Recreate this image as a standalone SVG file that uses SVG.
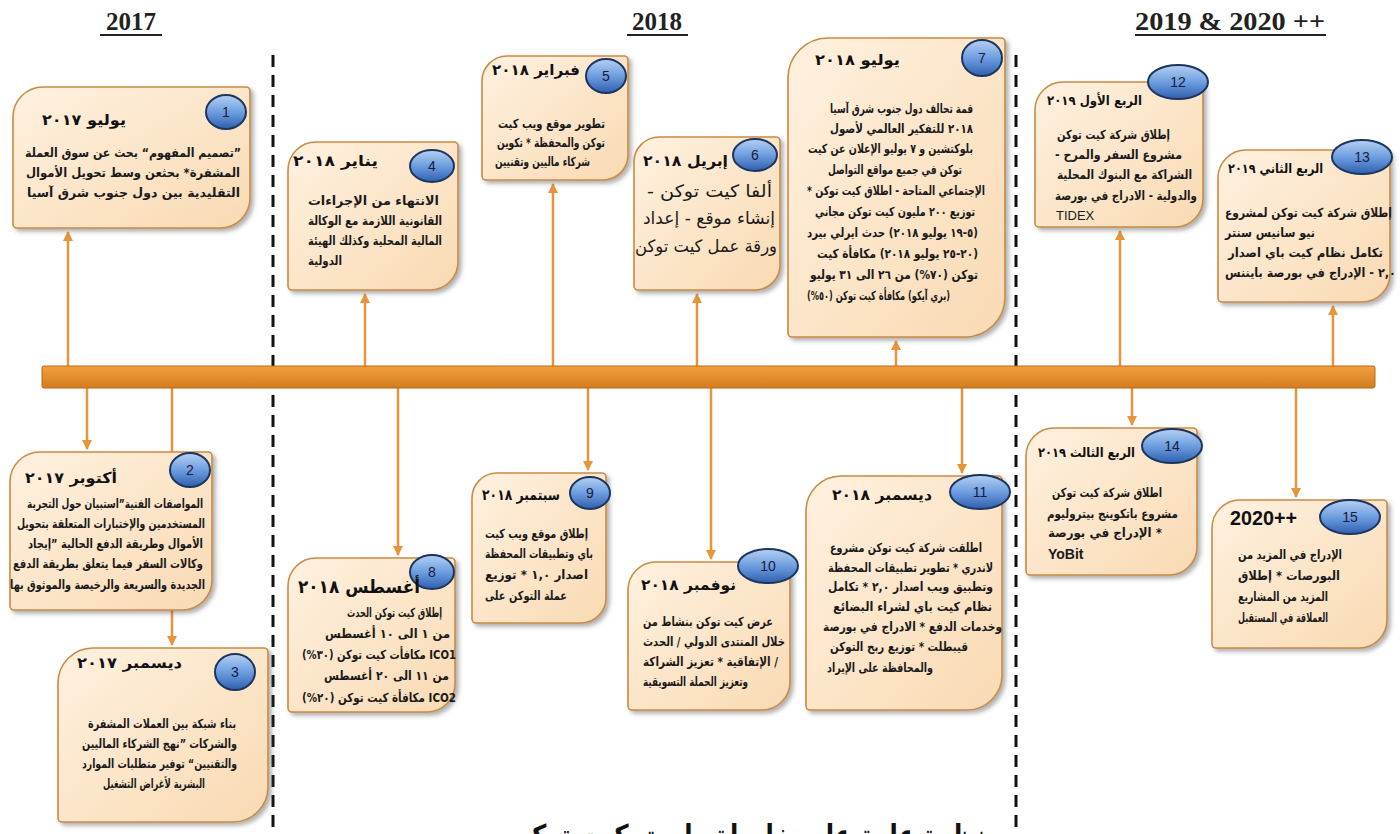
<svg xmlns="http://www.w3.org/2000/svg" width="1400" height="834" viewBox="0 0 1400 834">
<style>
.card{fill:url(#cg);stroke:#c98b45;stroke-width:1.6;filter:url(#sh)}
.bdg{fill:url(#bg);stroke:#1c355e;stroke-width:2}
.num{font-family:"Liberation Sans",sans-serif;font-size:14px;fill:#1a1a3a;text-anchor:middle}
.ttl{font-family:"DejaVu Sans",sans-serif;font-weight:bold;font-size:15px;fill:#111;direction:rtl}
.bd{font-family:"DejaVu Sans",sans-serif;font-weight:bold;font-size:12.5px;fill:#1a1a1a;direction:rtl}
.lat{font-family:"Liberation Sans",sans-serif;font-size:13px;fill:#1a1a1a}
.yr{font-family:"Liberation Serif",serif;font-weight:bold;font-size:25px;fill:#222;text-anchor:middle}
.ul{stroke:#222;stroke-width:2}
.dash{stroke:#111;stroke-width:3;stroke-dasharray:12 8;fill:none}
.arr{stroke:#e8953a;stroke-width:2.5;fill:none}
</style>
<defs>
<linearGradient id="cg" x1="0" y1="0" x2="1" y2="1">
<stop offset="0" stop-color="#fff1e0"/><stop offset="1" stop-color="#f9dab3"/>
</linearGradient>
<linearGradient id="bg" x1="0" y1="0" x2="0" y2="1">
<stop offset="0" stop-color="#b5d0f2"/><stop offset="0.5" stop-color="#6e9ee0"/><stop offset="1" stop-color="#2f5fae"/>
</linearGradient>
<linearGradient id="barg" x1="0" y1="0" x2="0" y2="1">
<stop offset="0" stop-color="#f0a040"/><stop offset="1" stop-color="#d47c1e"/>
</linearGradient>
<filter id="sh" x="-10%" y="-10%" width="130%" height="130%">
<feDropShadow dx="3" dy="3" stdDeviation="2" flood-color="#555" flood-opacity="0.45"/>
</filter>
<marker id="ah" viewBox="0 0 10 10" refX="9" refY="5" markerWidth="4" markerHeight="4" orient="auto">
<path d="M0,0 L10,5 L0,10 Z" fill="#e8953a"/>
</marker>
</defs>
<rect width="1400" height="834" fill="#fff"/>

<g id="headers">
<text class="yr" x="131" y="30">2017</text><line class="ul" x1="100" y1="35" x2="162" y2="35"/>
<text class="yr" x="657" y="30">2018</text><line class="ul" x1="627" y1="35" x2="688" y2="35"/>
<text class="yr" x="1230" y="30" textLength="190" lengthAdjust="spacingAndGlyphs">2019 &amp; 2020 ++</text><line class="ul" x1="1135" y1="35" x2="1326" y2="35"/>
</g>

<g id="dividers">
<line class="dash" x1="273" y1="55" x2="273" y2="834"/>
<line class="dash" x1="1016" y1="55" x2="1016" y2="834"/>
</g>

<g id="connectors">
<line class="arr" x1="68" y1="366" x2="68" y2="232" marker-end="url(#ah)"/>
<line class="arr" x1="365" y1="366" x2="365" y2="294" marker-end="url(#ah)"/>
<line class="arr" x1="553" y1="366" x2="553" y2="184" marker-end="url(#ah)"/>
<line class="arr" x1="697" y1="366" x2="697" y2="294" marker-end="url(#ah)"/>
<line class="arr" x1="896" y1="366" x2="896" y2="341" marker-end="url(#ah)"/>
<line class="arr" x1="1120" y1="366" x2="1120" y2="231" marker-end="url(#ah)"/>
<line class="arr" x1="1333" y1="366" x2="1333" y2="306" marker-end="url(#ah)"/>
<line class="arr" x1="87" y1="388" x2="87" y2="449" marker-end="url(#ah)"/>
<line class="arr" x1="172" y1="388" x2="172" y2="645" marker-end="url(#ah)"/>
<line class="arr" x1="398" y1="388" x2="398" y2="555" marker-end="url(#ah)"/>
<line class="arr" x1="588" y1="388" x2="588" y2="470" marker-end="url(#ah)"/>
<line class="arr" x1="711" y1="388" x2="711" y2="559" marker-end="url(#ah)"/>
<line class="arr" x1="962" y1="388" x2="962" y2="473" marker-end="url(#ah)"/>
<line class="arr" x1="1132" y1="388" x2="1132" y2="425" marker-end="url(#ah)"/>
<line class="arr" x1="1296" y1="388" x2="1296" y2="497" marker-end="url(#ah)"/>
</g>

<g id="timeline">
<rect x="42" y="366" width="1333" height="22" rx="2" fill="url(#barg)" stroke="#b86a1a" stroke-width="1"/>
</g>

<g id="n1">
<path class="card" d="M43,87 H246 A4,4 0 0 1 250,91 V198 A30,30 0 0 1 220,228 H17 A4,4 0 0 1 13,224 V117 A30,30 0 0 1 43,87 Z"/>
<ellipse class="bdg" cx="226" cy="112" rx="20" ry="17"/><text class="num" x="226" y="117">1</text>
<text class="ttl" x="126" y="125" textLength="84" lengthAdjust="spacingAndGlyphs">يوليو ٢٠١٧</text>
<text class="bd" x="241" y="157" textLength="216" lengthAdjust="spacingAndGlyphs">”تصميم المفهوم“ بحث عن سوق العملة</text>
<text class="bd" x="240" y="177" textLength="214" lengthAdjust="spacingAndGlyphs">المشفرة* بحثعن وسط تحويل الأموال</text>
<text class="bd" x="240" y="197" textLength="213" lengthAdjust="spacingAndGlyphs">التقليدية بين دول جنوب شرق آسيا</text>
</g>

<g id="n2">
<path class="card" d="M40,452 H208 A4,4 0 0 1 212,456 V580 A30,30 0 0 1 182,610 H14 A4,4 0 0 1 10,606 V482 A30,30 0 0 1 40,452 Z"/>
<ellipse class="bdg" cx="190" cy="470" rx="20" ry="17"/><text class="num" x="190" y="475">2</text>
<text class="ttl" x="117" y="483" textLength="92" lengthAdjust="spacingAndGlyphs">أكتوبر ٢٠١٧</text>
<text class="bd" x="203" y="508" textLength="176" lengthAdjust="spacingAndGlyphs">المواصفات الفنية”استبيان حول التجربة</text>
<text class="bd" x="205" y="528" textLength="188" lengthAdjust="spacingAndGlyphs">المستخدمين والإختبارات المتعلقة بتحويل</text>
<text class="bd" x="203" y="548" textLength="175" lengthAdjust="spacingAndGlyphs">الأموال وطريقة الدفع الحالية ”إيجاد</text>
<text class="bd" x="203" y="568" textLength="190" lengthAdjust="spacingAndGlyphs">وكالات السفر فيما يتعلق بطريقة الدفع</text>
<text class="bd" x="205" y="589" textLength="195" lengthAdjust="spacingAndGlyphs">الجديدة والسريعة والرخيصة والموثوق بها</text>
</g>

<g id="n3">
<path class="card" d="M93,648 H264 A4,4 0 0 1 268,652 V787 A35,35 0 0 1 233,822 H62 A4,4 0 0 1 58,818 V683 A35,35 0 0 1 93,648 Z"/>
<ellipse class="bdg" cx="235" cy="672" rx="20" ry="18"/><text class="num" x="235" y="677">3</text>
<text class="ttl" x="182" y="668" textLength="105" lengthAdjust="spacingAndGlyphs">ديسمبر ٢٠١٧</text>
<text class="bd" x="236" y="728" textLength="148" lengthAdjust="spacingAndGlyphs">بناء شبكة بين العملات المشفرة</text>
<text class="bd" x="237" y="748" textLength="155" lengthAdjust="spacingAndGlyphs">والشركات ”نهج الشركاء الماليين</text>
<text class="bd" x="237" y="768" textLength="155" lengthAdjust="spacingAndGlyphs">والتقنيين“ توفير متطلبات الموارد</text>
<text class="bd" x="205" y="788" textLength="102" lengthAdjust="spacingAndGlyphs">البشرية لأغراض التشغيل</text>
</g>

<g id="n4">
<path class="card" d="M316,142 H454 A4,4 0 0 1 458,146 V262 A28,28 0 0 1 430,290 H292 A4,4 0 0 1 288,286 V170 A28,28 0 0 1 316,142 Z"/>
<ellipse class="bdg" cx="432" cy="166" rx="22" ry="16"/><text class="num" x="432" y="171">4</text>
<text class="ttl" x="378" y="166" textLength="85" lengthAdjust="spacingAndGlyphs">يناير ٢٠١٨</text>
<text class="bd" x="439" y="205" textLength="131" lengthAdjust="spacingAndGlyphs">الانتهاء من الإجراءات</text>
<text class="bd" x="442" y="225" textLength="134" lengthAdjust="spacingAndGlyphs">القانونية اللازمة مع الوكالة</text>
<text class="bd" x="442" y="245" textLength="134" lengthAdjust="spacingAndGlyphs">المالية المحلية وكذلك الهيئة</text>
<text class="bd" x="342" y="265" textLength="34" lengthAdjust="spacingAndGlyphs">الدولية</text>
</g>

<g id="n5">
<path class="card" d="M507,56 H624 A4,4 0 0 1 628,60 V155 A25,25 0 0 1 603,180 H486 A4,4 0 0 1 482,176 V81 A25,25 0 0 1 507,56 Z"/>
<ellipse class="bdg" cx="606" cy="76" rx="20" ry="17"/><text class="num" x="606" y="81">5</text>
<text class="ttl" x="580" y="75" textLength="88" lengthAdjust="spacingAndGlyphs">فبراير ٢٠١٨</text>
<text class="bd" x="605" y="128" textLength="107" lengthAdjust="spacingAndGlyphs">تطوير موقع ويب كيت</text>
<text class="bd" x="605" y="147" textLength="108" lengthAdjust="spacingAndGlyphs">توكن والمحفظة * تكوين</text>
<text class="bd" x="590" y="166" textLength="95" lengthAdjust="spacingAndGlyphs">شركاء ماليين وتقنيين</text>
</g>

<g id="n6">
<path class="card" d="M659,137 H776 A4,4 0 0 1 780,141 V265 A25,25 0 0 1 755,290 H638 A4,4 0 0 1 634,286 V162 A25,25 0 0 1 659,137 Z"/>
<ellipse class="bdg" cx="755" cy="155" rx="22" ry="16"/><text class="num" x="755" y="160">6</text>
<text class="ttl" x="728" y="166" textLength="85" lengthAdjust="spacingAndGlyphs">إبريل ٢٠١٨</text>
<text class="bd" x="772" y="197" style="font-size:17px;font-weight:normal" textLength="125" lengthAdjust="spacingAndGlyphs">ألفا كيت توكن -</text>
<text class="bd" x="775" y="224" style="font-size:17px;font-weight:normal" textLength="132" lengthAdjust="spacingAndGlyphs">إنشاء موقع - إعداد</text>
<text class="bd" x="777" y="252" style="font-size:17px;font-weight:normal" textLength="142" lengthAdjust="spacingAndGlyphs">ورقة عمل كيت توكن</text>
</g>

<g id="n7">
<path class="card" d="M828,38 H1001 A4,4 0 0 1 1005,42 V297 A40,40 0 0 1 965,337 H792 A4,4 0 0 1 788,333 V78 A40,40 0 0 1 828,38 Z"/>
<ellipse class="bdg" cx="982" cy="58" rx="20" ry="18"/><text class="num" x="982" y="63">7</text>
<text class="ttl" x="900" y="65" textLength="85" lengthAdjust="spacingAndGlyphs">يوليو ٢٠١٨</text>
<text class="bd" x="973" y="113" textLength="143" lengthAdjust="spacingAndGlyphs">قمة تحالف دول جنوب شرق آسيا</text>
<text class="bd" x="973" y="133" textLength="143" lengthAdjust="spacingAndGlyphs">٢٠١٨ للتفكير العالمي لأصول</text>
<text class="bd" x="973" y="153" textLength="165" lengthAdjust="spacingAndGlyphs">بلوكتشين و ٧ يوليو الإعلان عن كيت</text>
<text class="bd" x="962" y="174" textLength="134" lengthAdjust="spacingAndGlyphs">توكن في جميع مواقع التواصل</text>
<text class="bd" x="985" y="195" textLength="178" lengthAdjust="spacingAndGlyphs">الإجتماعي المتاحة - اطلاق كيت توكن *</text>
<text class="bd" x="975" y="216" textLength="160" lengthAdjust="spacingAndGlyphs">توزيع ٢٠٠ مليون كيت توكن مجاني</text>
<text class="bd" x="978" y="237" textLength="171" lengthAdjust="spacingAndGlyphs">(٥-١٩ يوليو ٢٠١٨) حدث ايرلي بيرد</text>
<text class="bd" x="978" y="258" textLength="161" lengthAdjust="spacingAndGlyphs">(٢٠-٢٥ يوليو ٢٠١٨) مكافأة كيت</text>
<text class="bd" x="978" y="279" textLength="168" lengthAdjust="spacingAndGlyphs">توكن (٧٠%) من ٢٦ الى ٣١ يوليو</text>
<text class="bd" x="950" y="300" textLength="143" lengthAdjust="spacingAndGlyphs">(بري آيكو) مكافأة كيت توكن (٥٠%)</text>
</g>

<g id="n8">
<path class="card" d="M316,558 H451 A4,4 0 0 1 455,562 V684 A28,28 0 0 1 427,712 H292 A4,4 0 0 1 288,708 V586 A28,28 0 0 1 316,558 Z"/>
<ellipse class="bdg" cx="432" cy="572" rx="22" ry="17"/><text class="num" x="432" y="577">8</text>
<text class="ttl" x="420" y="593" style="font-size:18px" textLength="122" lengthAdjust="spacingAndGlyphs">أغسطس ٢٠١٨</text>
<text class="bd" x="442" y="617" textLength="95" lengthAdjust="spacingAndGlyphs">إطلاق كيت توكن الحدث</text>
<text class="bd" x="450" y="638" textLength="125" lengthAdjust="spacingAndGlyphs">من ١ الى ١٠ أغسطس</text>
<text class="bd" x="456" y="659" textLength="154" lengthAdjust="spacingAndGlyphs">ICO1 مكافأت كيت توكن (٣٠%)</text>
<text class="bd" x="449" y="680" textLength="125" lengthAdjust="spacingAndGlyphs">من ١١ الى ٢٠ أغسطس</text>
<text class="bd" x="456" y="702" textLength="154" lengthAdjust="spacingAndGlyphs">ICO2 مكافأة كيت توكن (٢٠%)</text>
</g>

<g id="n9">
<path class="card" d="M497,473 H602 A4,4 0 0 1 606,477 V598 A25,25 0 0 1 581,623 H476 A4,4 0 0 1 472,619 V498 A25,25 0 0 1 497,473 Z"/>
<ellipse class="bdg" cx="590" cy="493" rx="20" ry="16"/><text class="num" x="590" y="498">9</text>
<text class="ttl" x="560" y="500" textLength="78" lengthAdjust="spacingAndGlyphs">سبتمبر ٢٠١٨</text>
<text class="bd" x="588" y="538" textLength="103" lengthAdjust="spacingAndGlyphs">إطلاق موقع ويب كيت</text>
<text class="bd" x="593" y="558" textLength="108" lengthAdjust="spacingAndGlyphs">باي وتطبيقات المحفظة</text>
<text class="bd" x="588" y="579" textLength="103" lengthAdjust="spacingAndGlyphs">اصدار ١,٠ * توزيع</text>
<text class="bd" x="567" y="600" textLength="82" lengthAdjust="spacingAndGlyphs">عملة التوكن على</text>
</g>

<g id="n10">
<path class="card" d="M656,562 H786 A4,4 0 0 1 790,566 V682 A28,28 0 0 1 762,710 H632 A4,4 0 0 1 628,706 V590 A28,28 0 0 1 656,562 Z"/>
<ellipse class="bdg" cx="768" cy="566" rx="30" ry="17"/><text class="num" x="768" y="571">10</text>
<text class="ttl" x="736" y="590" textLength="95" lengthAdjust="spacingAndGlyphs">نوفمبر ٢٠١٨</text>
<text class="bd" x="773" y="626" textLength="130" lengthAdjust="spacingAndGlyphs">عرض كيت توكن بنشاط من</text>
<text class="bd" x="785" y="646" textLength="142" lengthAdjust="spacingAndGlyphs">خلال المنتدى الدولي / الحدث</text>
<text class="bd" x="778" y="666" textLength="135" lengthAdjust="spacingAndGlyphs">/ الإتفاقية * تعزيز الشراكة</text>
<text class="bd" x="748" y="686" textLength="105" lengthAdjust="spacingAndGlyphs">وتعزيز الحملة التسويقية</text>
</g>

<g id="n11">
<path class="card" d="M841,476 H998 A4,4 0 0 1 1002,480 V675 A35,35 0 0 1 967,710 H810 A4,4 0 0 1 806,706 V511 A35,35 0 0 1 841,476 Z"/>
<ellipse class="bdg" cx="980" cy="492" rx="30" ry="17"/><text class="num" x="980" y="497">11</text>
<text class="ttl" x="932" y="500" textLength="100" lengthAdjust="spacingAndGlyphs">ديسمبر ٢٠١٨</text>
<text class="bd" x="982" y="552" textLength="152" lengthAdjust="spacingAndGlyphs">اطلقت شركة كيت توكن مشروع</text>
<text class="bd" x="993" y="572" textLength="165" lengthAdjust="spacingAndGlyphs">لاندري * تطوير تطبيقات المحفظة</text>
<text class="bd" x="993" y="591" textLength="165" lengthAdjust="spacingAndGlyphs">وتطبيق ويب اصدار ٢,٠ * تكامل</text>
<text class="bd" x="992" y="611" textLength="159" lengthAdjust="spacingAndGlyphs">نظام كيت باي لشراء البضائع</text>
<text class="bd" x="1002" y="631" textLength="179" lengthAdjust="spacingAndGlyphs">وخدمات الدفع * الادراج في بورصة</text>
<text class="bd" x="968" y="651" textLength="138" lengthAdjust="spacingAndGlyphs">قيبطلت * توزيع ربح التوكن</text>
<text class="bd" x="933" y="672" textLength="106" lengthAdjust="spacingAndGlyphs">والمحافظة على الإيراد</text>
</g>

<g id="n12">
<path class="card" d="M1063,82 H1199 A4,4 0 0 1 1203,86 V199 A28,28 0 0 1 1175,227 H1039 A4,4 0 0 1 1035,223 V110 A28,28 0 0 1 1063,82 Z"/>
<ellipse class="bdg" cx="1178" cy="82" rx="30" ry="17"/><text class="num" x="1178" y="87">12</text>
<text class="ttl" x="1142" y="105" style="font-size:13px" textLength="95" lengthAdjust="spacingAndGlyphs">الربع الأول ٢٠١٩</text>
<text class="bd" x="1170" y="139" textLength="113" lengthAdjust="spacingAndGlyphs">إطلاق شركة كيت توكن</text>
<text class="bd" x="1182" y="159" textLength="127" lengthAdjust="spacingAndGlyphs">مشروع السفر والمرح -</text>
<text class="bd" x="1192" y="179" textLength="135" lengthAdjust="spacingAndGlyphs">الشراكة مع البنوك المحلية</text>
<text class="bd" x="1197" y="200" textLength="142" lengthAdjust="spacingAndGlyphs">والدولية - الادراج في بورصة</text>
<text class="lat" x="1056" y="220">TIDEX</text>
</g>

<g id="n13">
<path class="card" d="M1246,150 H1386 A4,4 0 0 1 1390,154 V274 A28,28 0 0 1 1362,302 H1222 A4,4 0 0 1 1218,298 V178 A28,28 0 0 1 1246,150 Z"/>
<ellipse class="bdg" cx="1362" cy="157" rx="30" ry="17"/><text class="num" x="1362" y="162">13</text>
<text class="ttl" x="1323" y="173" style="font-size:13px" textLength="95" lengthAdjust="spacingAndGlyphs">الربع الثاني ٢٠١٩</text>
<text class="bd" x="1392" y="217" textLength="167" lengthAdjust="spacingAndGlyphs">إطلاق شركة كيت توكن لمشروع</text>
<text class="bd" x="1315" y="237" textLength="90" lengthAdjust="spacingAndGlyphs">نيو سانيس سنتر</text>
<text class="bd" x="1383" y="257" textLength="155" lengthAdjust="spacingAndGlyphs">تكامل نظام كيت باي اصدار</text>
<text class="bd" x="1396" y="277" textLength="171" lengthAdjust="spacingAndGlyphs">٢,٠ - الإدراج في بورصة بايننس</text>
</g>

<g id="n14">
<path class="card" d="M1054,428 H1193 A4,4 0 0 1 1197,432 V547 A28,28 0 0 1 1169,575 H1030 A4,4 0 0 1 1026,571 V456 A28,28 0 0 1 1054,428 Z"/>
<ellipse class="bdg" cx="1172" cy="446" rx="30" ry="17"/><text class="num" x="1172" y="451">14</text>
<text class="ttl" x="1135" y="457" style="font-size:13px" textLength="97" lengthAdjust="spacingAndGlyphs">الربع الثالث ٢٠١٩</text>
<text class="bd" x="1162" y="497" textLength="110" lengthAdjust="spacingAndGlyphs">اطلاق شركة كيت توكن</text>
<text class="bd" x="1178" y="518" textLength="131" lengthAdjust="spacingAndGlyphs">مشروع باتكوينج بيتروليوم</text>
<text class="bd" x="1162" y="537" textLength="114" lengthAdjust="spacingAndGlyphs">* الإدراج في بورصة</text>
<text class="lat" x="1048" y="559" style="font-weight:bold;font-size:14px">YoBit</text>
</g>

<g id="n15">
<path class="card" d="M1240,500 H1383 A4,4 0 0 1 1387,504 V620 A28,28 0 0 1 1359,648 H1216 A4,4 0 0 1 1212,644 V528 A28,28 0 0 1 1240,500 Z"/>
<ellipse class="bdg" cx="1350" cy="517" rx="30" ry="17"/><text class="num" x="1350" y="522">15</text>
<text class="lat" x="1230" y="525" style="font-weight:bold;font-size:21px;fill:#111" textLength="67" lengthAdjust="spacingAndGlyphs">2020++</text>
<text class="bd" x="1342" y="559" textLength="104" lengthAdjust="spacingAndGlyphs">الإدراج في المزيد من</text>
<text class="bd" x="1340" y="580" textLength="102" lengthAdjust="spacingAndGlyphs">البورصات * إطلاق</text>
<text class="bd" x="1328" y="601" textLength="90" lengthAdjust="spacingAndGlyphs">المزيد من المشاريع</text>
<text class="bd" x="1328" y="622" textLength="90" lengthAdjust="spacingAndGlyphs">العملاقة في المستقبل</text>
</g>

<g id="title">
<text x="748" y="846" textLength="475" lengthAdjust="spacingAndGlyphs" style="font-family:'DejaVu Sans',sans-serif;font-weight:bold;font-size:30px;fill:#111;text-anchor:middle;direction:rtl">نظرة عامة على خارطة طريق كيت توكن</text>
</g>
</svg>
